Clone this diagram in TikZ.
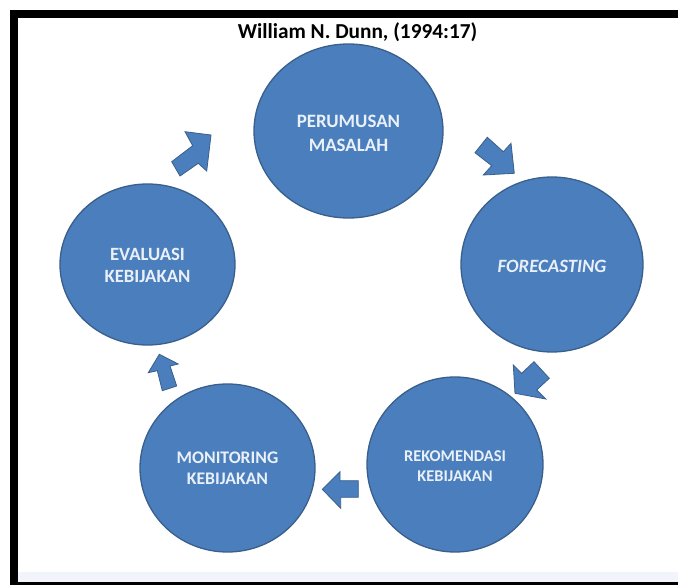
\documentclass[tikz,border=0pt]{standalone}
\usepackage{fontspec}
\setmainfont{Carlito}
\usetikzlibrary{shapes.geometric}
\definecolor{cfill}{HTML}{4A7EBD}
\definecolor{cedge}{HTML}{3A5F8B}
\definecolor{ctext}{HTML}{E9F0F8}
\definecolor{cband}{HTML}{F1F4FB}
\newcommand{\labfont}[2]{\bfseries\fontsize{#1}{#2}\selectfont}
\tikzset{
  phase/.style={ellipse,draw=cedge,line width=1.3pt,fill=cfill,inner sep=0pt},
  phasetext/.style={text=ctext,align=center,inner sep=0pt},
  blockarrow/.style={fill=cfill,draw=cedge,line width=.8pt,line join=miter},
  titletext/.style={font=\bfseries\fontsize{21.3}{24}\selectfont,text=black,inner sep=0pt}
}
\begin{document}
\begin{tikzpicture}[x=1pt,y=-1pt]
\useasboundingbox (0,0) rectangle (678,585);
\fill[white] (0,0) rectangle (678,585);
\fill[black] (10,10) rectangle (678,585);
\fill[white] (18,18) rectangle (678,582);
\fill[cband] (18,572) rectangle (678,582);
\node[titletext] (title) at (357.5,32.5) {William N. Dunn, (1994:17)};
\node[phase,minimum width=189pt,minimum height=174pt,
  label={[phasetext,yshift=-2.5pt,font=\labfont{18.9}{24}]center:PERUMUSAN\\MASALAH}] (perumusan) at (348.5,131) {};
\node[phase,minimum width=182pt,minimum height=175pt,
  label={[phasetext,yshift=-1.5pt,font=\labfont{18.8}{24}\itshape]center:FORECASTING}] (forecasting) at (552,264.5) {};
\node[phase,minimum width=176pt,minimum height=175pt,
  label={[phasetext,yshift=-1.5pt,font=\labfont{16.4}{20}]center:REKOMENDASI\\KEBIJAKAN}] (rekomendasi) at (455,464.5) {};
\node[phase,minimum width=175pt,minimum height=168pt,
  label={[phasetext,yshift=-.5pt,font=\labfont{17.7}{21}]center:MONITORING\\KEBIJAKAN}] (monitoring) at (227.5,468) {};
\node[phase,minimum width=175pt,minimum height=161pt,
  label={[phasetext,yshift=-.5pt,font=\labfont{18.7}{22}]center:EVALUASI\\KEBIJAKAN}] (evaluasi) at (147.5,264.5) {};
\coordinate (a1e) at (211,135);
\coordinate (a2e) at (514.3,173.3);
\coordinate (a3e) at (515,393.3);
\coordinate (a4e) at (322.3,489.3);
\coordinate (a5e) at (159.3,354.3);
\draw[blockarrow] (171.7,161.7) -- (180,176) -- (198.3,163.3) -- (206.7,171) -- (a1e) -- (185,131.7) -- (192.7,145.7) -- cycle;
\draw[blockarrow] (475,152.7) -- (487.3,137.3) -- (503.3,151.7) -- (511,143.3) -- (a2e) -- (483.3,175) -- (491.7,165.7) -- cycle;
\draw[blockarrow] (a3e) -- (513.3,365) -- (521.7,373.3) -- (534,361.7) -- (549.3,378.3) -- (536.7,390) -- (545.7,399) -- cycle;
\draw[blockarrow] (a4e) -- (340,471.7) -- (340,480.7) -- (358.3,480.7) -- (358.3,497.3) -- (340.7,497.3) -- (340.7,508.3) -- cycle;
\draw[blockarrow] (a5e) -- (178.3,364) -- (170,366) -- (176.7,386) -- (162.3,390.7) -- (157.3,370.7) -- (148.3,372.7) -- cycle;
\end{tikzpicture}
\end{document}
